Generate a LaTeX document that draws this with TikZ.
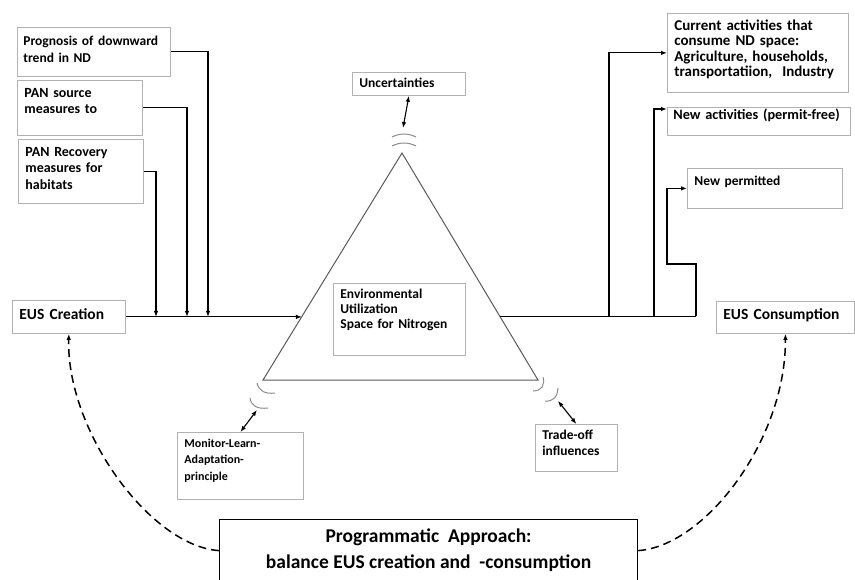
\documentclass[tikz,border=0pt]{standalone}
\usepackage{fontspec}
\setmainfont{Carlito}
\usetikzlibrary{arrows.meta,calc}
\begin{document}
\begin{tikzpicture}[x=1pt,y=-1pt,
  box/.style={draw=black!30, line width=0.8pt, fill=white, font=\bfseries\fontsize{13.5}{16}\selectfont, align=left, anchor=north west, inner xsep=7pt, inner ysep=5pt},
  arr/.style={line width=1.1pt, -{Latex[length=6pt,width=4.5pt]}},
  dbl/.style={line width=1.1pt, {Latex[length=6pt,width=4.5pt]}-{Latex[length=6pt,width=4.5pt]}},
  wave/.style={draw=black!45, line width=1pt},
  dashcurve/.style={line width=1.5pt, dash pattern=on 8pt off 5pt, -{Latex[length=6pt,width=4.5pt]}}]
  \useasboundingbox (0,0) rectangle (855,579);

  \coordinate (top) at (402,153);
  \coordinate (bl) at (263,380);
  \coordinate (br) at (538,380);
  \draw[black!65, line width=1pt] (top) -- (bl) -- (br) -- cycle;

  \node[box, font=\bfseries\fontsize{13.5}{17}\selectfont, inner xsep=6pt, text width=141pt, text height=13pt, text depth=26pt] (prog) at (17,27) {Prognosis of downward\\trend in ND};
  \node[box, font=\bfseries\fontsize{14}{16.5}\selectfont, text width=111pt, text height=12pt, text depth=33pt] (pansrc) at (17,80) {PAN source\\measures to};
  \node[box, font=\bfseries\fontsize{14}{16.5}\selectfont, text width=111pt, text height=12pt, text depth=42pt] (panrec) at (18,139) {PAN Recovery\\measures for\\habitats};
  \node[box, font=\bfseries\fontsize{15.5}{18}\selectfont, text width=99pt, text height=14pt, text depth=9pt] (euscr) at (12,300) {EUS Creation};

  \node[box, inner ysep=4pt, text width=99pt, text height=11pt, text depth=4pt] (unc) at (352,72) {Uncertainties};
  \node[box, font=\bfseries\fontsize{13.5}{15}\selectfont, text width=118pt, text height=10pt, text depth=52pt] (env) at (333,283) {Environmental\\Utilization\\Space for Nitrogen};
  \node[box, font=\bfseries\fontsize{12}{16.5}\selectfont, text width=112pt, text height=10pt, text depth=47pt] (mon) at (177,432) {Monitor-Learn-\\Adaptation-\\principle};
  \node[box, text width=68pt, text height=10pt, text depth=27pt] (trade) at (535,424) {Trade-off\\influences};

  \node[box, font=\bfseries\fontsize{15}{15.3}\selectfont, text width=167pt, text height=12pt, text depth=57pt] (cur) at (667,13) {Current activities that\\consume ND space:\\Agriculture, households,\\transportatiion,~ Industry};
  \node[box, font=\bfseries\fontsize{14.3}{16}\selectfont, inner xsep=6pt, text width=171pt, text height=7pt, text depth=11pt] (newact) at (667,107) {New activities (permit-free)};
  \node[box, text width=141pt, text height=12pt, text depth=18pt] (newperm) at (687,168) {New permitted};
  \node[box, font=\bfseries\fontsize{15.5}{18}\selectfont, text width=124pt, text height=13pt, text depth=9pt] (euscon) at (716,301) {EUS Consumption};

  \node[draw, line width=1.2pt, fill=white, anchor=north west, minimum width=418pt, minimum height=62pt, align=center,
    font=\bfseries\fontsize{19.5}{26}\selectfont] (progapp) at (219,519) {Programmatic~ Approach:\\balance EUS creation and~ -consumption};

  \coordinate (lin) at ($(top)!0.72!(bl)$);
  \coordinate (rin) at ($(top)!0.72!(br)$);
  \draw[arr] (euscr.east) -- (euscr.east -| lin);
  \foreach \n/\x in {prog/208, pansrc/187, panrec/156}
    \draw[arr] (\n.east) -| (\x,0 |- euscr.east);

  \draw[line width=1.1pt] (rin) -- (rin -| 696,0);
  \draw[arr] (rin -| 696,0) |- (667,264) |- (newperm.west);
  \draw[arr] (rin -| 609,0) |- (cur.west);
  \draw[arr] (rin -| 654,0) |- ([yshift=-2pt]newact.north west);

  \coordinate (wtop) at (403,128);
  \coordinate (wleft) at (257,410);
  \coordinate (wright) at (558,401);
  \draw[dbl] (unc.south) -- (wtop);
  \draw[dbl] (mon.north) -- (wleft);
  \draw[dbl] (trade.north) -- (wright);

  \draw[wave] (392,137) .. controls (400,133) and (408,133) .. (416,137);
  \draw[wave] (392,146) .. controls (400,142) and (408,142) .. (416,146);
  \draw[wave] (257,383) .. controls (259,391) and (265,394.3) .. (275,393);
  \draw[wave] (250,398) .. controls (251.3,406) and (257.3,409.3) .. (268,408);
  \draw[wave] (543,377) .. controls (545,385.7) and (541.7,390.7) .. (533,391);
  \draw[wave] (558,388) .. controls (557.3,397.3) and (553,401.7) .. (545,401);

  \draw[dashcurve] (progapp.west) .. controls (150,546) and (66,430) .. (euscr.south);
  \draw[dashcurve] (progapp.east) .. controls (705,546) and (786,440) .. (euscon.south);
\end{tikzpicture}
\end{document}
